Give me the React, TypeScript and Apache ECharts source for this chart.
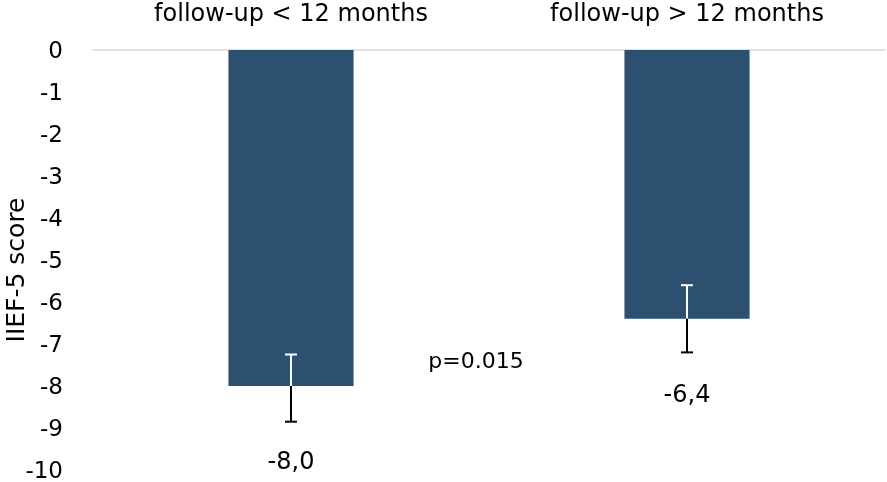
import React, { useEffect, useRef } from "react";
import * as echarts from "echarts";

const categories = ["follow-up < 12 months", "follow-up > 12 months"];
const values = [-8.0, -6.4];
const errLow = [-8.85, -7.2];
const errHigh = [-7.25, -5.6];
const valueLabels = ["-8,0", "-6,4"];
const yTicks = { min: -10, max: 0, interval: 1 };
const yTitle = "IIEF-5 score";
const pText = "p=0.015";

const FONT = "DejaVu Sans";

export default function App() {
  const ref = useRef<HTMLDivElement>(null);
  useEffect(() => {
    if (!ref.current) return;
    const chart = echarts.init(ref.current, null, { renderer: "svg" });
    chart.setOption({
      animation: false,
      grid: { left: 93, right: 2, top: 50, bottom: 12, outerBoundsMode: "none", containLabel: false },
      xAxis: {
        type: "category",
        position: "top",
        data: categories,
        axisLine: { show: true, lineStyle: { color: "#d9d9d9", width: 1.5 } },
        axisTick: { show: false },
        axisLabel: { color: "#000", fontSize: 24, fontFamily: FONT, margin: 25 },
      },
      yAxis: {
        type: "value",
        min: yTicks.min,
        max: yTicks.max,
        interval: yTicks.interval,
        axisLine: { show: false },
        axisTick: { show: false },
        splitLine: { show: false },
        axisLabel: { color: "#000", fontSize: 23, fontFamily: FONT, margin: 30 },
      },
      series: [
        {
          type: "bar",
          data: values.map((v, i) => ({
            value: v,
            label: {
              show: true,
              position: "bottom",
              distance: 63,
              formatter: valueLabels[i],
              color: "#000",
              fontSize: 24,
              fontFamily: FONT,
            },
          })),
          barWidth: "31.6%",
          itemStyle: { color: "#2c5170" },
        },
        {
          type: "custom",
          data: values.map((v, i) => [i, v, errLow[i], errHigh[i]]),
          renderItem: (params: any, api: any) => {
            const x = api.value(0);
            const pv = api.coord([x, api.value(1)]);
            const pl = api.coord([x, api.value(2)]);
            const ph = api.coord([x, api.value(3)]);
            const cap = 6;
            return {
              type: "group",
              children: [
                {
                  type: "line",
                  shape: { x1: ph[0], y1: ph[1], x2: pv[0], y2: pv[1] },
                  style: { stroke: "#ffffff", lineWidth: 2 },
                },
                {
                  type: "line",
                  shape: { x1: ph[0] - cap, y1: ph[1], x2: ph[0] + cap, y2: ph[1] },
                  style: { stroke: "#ffffff", lineWidth: 2 },
                },
                {
                  type: "line",
                  shape: { x1: pv[0], y1: pv[1], x2: pl[0], y2: pl[1] },
                  style: { stroke: "#000000", lineWidth: 2 },
                },
                {
                  type: "line",
                  shape: { x1: pl[0] - cap, y1: pl[1], x2: pl[0] + cap, y2: pl[1] },
                  style: { stroke: "#000000", lineWidth: 2 },
                },
              ],
            };
          },
          z: 5,
        },
      ],
      graphic: [
        {
          type: "text",
          x: 15,
          y: 270,
          rotation: Math.PI / 2,
          style: {
            text: yTitle,
            fill: "#000",
            fontSize: 25,
            fontFamily: FONT,
            align: "center",
            verticalAlign: "middle",
          },
        },
        {
          type: "text",
          x: 476,
          y: 360,
          style: {
            text: pText,
            fill: "#000",
            fontSize: 22,
            fontFamily: FONT,
            align: "center",
            verticalAlign: "middle",
          },
        },
      ],
    });
    return () => chart.dispose();
  }, []);
  return <div ref={ref} style={{ width: 887, height: 482, position: "fixed", left: 0, top: 0 }} />;
}
